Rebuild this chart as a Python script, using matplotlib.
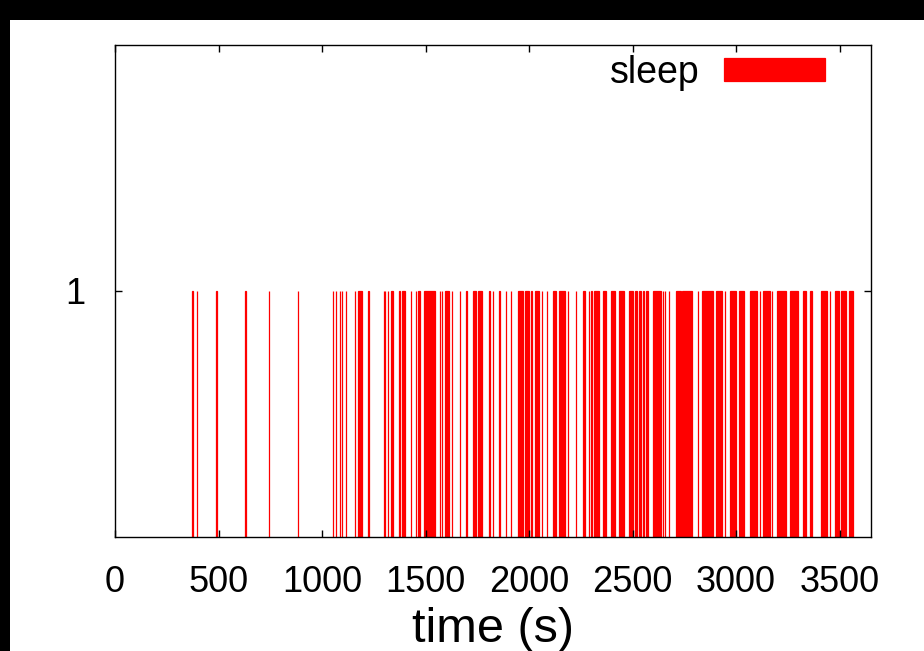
import matplotlib
matplotlib.use('Agg')
import matplotlib.pyplot as plt
from matplotlib.patches import Rectangle

# sleep periods: start time (s) and length (s)
# length 0 means one single impulse
sleep_start = [374, 394, 490, 630, 742, 882,
               1051, 1068, 1088, 1096, 1117, 1157, 1176, 1220,
               1299, 1305, 1318, 1331, 1370, 1387, 1431, 1452, 1465, 1494,
               1568, 1579, 1592, 1629, 1668, 1697, 1729, 1753, 1809, 1825,
               1854, 1887, 1914, 1949, 1982, 2011, 2031, 2062, 2086, 2115,
               2143, 2187, 2228, 2260, 2289, 2301, 2312, 2357, 2397, 2437,
               2482, 2510, 2531, 2553, 2566, 2598, 2646, 2658, 2675, 2711,
               2740, 2816, 2837, 2901, 2948, 2969, 3014, 3069, 3114, 3130,
               3175, 3197, 3262, 3323, 3355, 3412, 3452, 3476, 3508, 3548]
sleep_len = [0, 0, 0, 0, 0, 0,
             0, 0, 0, 0, 0, 0, 15, 8,
             0, 0, 0, 11, 9, 16, 0, 0, 9, 51,
             0, 0, 21, 0, 0, 0, 13, 18, 0, 0,
             8, 0, 0, 21, 16, 0, 15, 0, 0, 16,
             32, 0, 0, 12, 0, 0, 24, 16, 19, 21,
             19, 11, 11, 0, 11, 41, 0, 0, 0, 24,
             47, 0, 51, 32, 0, 29, 24, 33, 0, 32,
             0, 42, 37, 13, 13, 29, 0, 21, 24, 16]

x_ticks = [0, 500, 1000, 1500, 2000, 2500, 3000, 3500]
y_ticks = [1]

fig = plt.figure(figsize=(9.24, 6.51), dpi=100, facecolor='white')
# black border at top and left, like the original screenshot
fig.patches.append(Rectangle((0, 631 / 651), 1, 20 / 651, transform=fig.transFigure,
                             facecolor='black', edgecolor='none'))
fig.patches.append(Rectangle((0, 0), 10 / 924, 1, transform=fig.transFigure,
                             facecolor='black', edgecolor='none'))

ax = fig.add_axes([115 / 924, 1 - 537 / 651, (871 - 115) / 924, (537 - 45) / 651])
ax.set_facecolor('white')

widths = [max(w, 1) for w in sleep_len]
ax.bar(sleep_start, [1] * len(sleep_start), width=widths, align='edge',
       color='red', edgecolor='red', linewidth=0.9, label='sleep')

ax.set_xlim(0, 3652)
ax.set_ylim(0, 2)
ax.set_xticks(x_ticks)
ax.set_yticks(y_ticks)

font = 'Liberation Sans'
ax.tick_params(direction='in', length=5, width=1, top=True, right=True,
               labelsize=26, pad=20)
for lab in ax.get_xticklabels() + ax.get_yticklabels():
    lab.set_family(font)
ax.tick_params(axis='y', pad=21)
for sp in ax.spines.values():
    sp.set_linewidth(1.0)

ax.set_xlabel('time (s)', fontsize=35, family=font, labelpad=5)

ax.legend(loc='center right', bbox_to_anchor=((825 - 115) / 756, (537 - 73) / 492),
          frameon=False, markerfirst=False, borderaxespad=0, borderpad=0,
          handlelength=2.7, handleheight=0.55, handletextpad=0.65,
          prop={'family': font, 'size': 27})

fig.savefig('out.png', dpi=100)
